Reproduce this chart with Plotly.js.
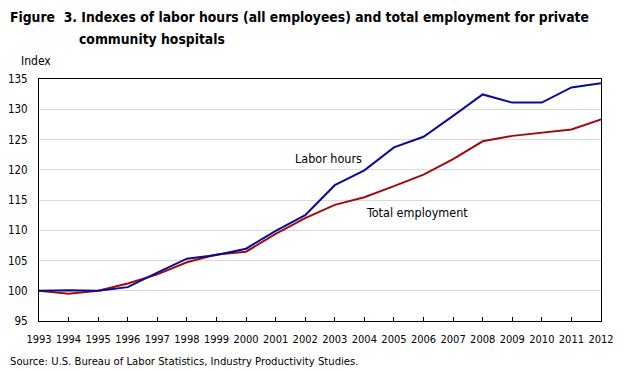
<!DOCTYPE html>
<html>
<head>
<meta charset="utf-8">
<script src="https://cdn.plot.ly/plotly-3.0.1.min.js"></script>
<style>html,body{margin:0;padding:0;background:#fff;}#chart{width:623px;height:373px;}</style>
</head>
<body>
<div id="chart"></div>
<script>
const years = [1993,1994,1995,1996,1997,1998,1999,2000,2001,2002,2003,2004,2005,2006,2007,2008,2009,2010,2011,2012];
const laborHours = [100.0,100.1,100.0,100.6,103.0,105.3,105.9,106.95,109.9,112.5,117.45,119.9,123.7,125.45,128.9,132.45,131.1,131.1,133.6,134.3];
const totalEmployment = [100.0,99.5,100.0,101.2,102.7,104.7,106.0,106.45,109.4,112.0,114.2,115.45,117.3,119.2,121.75,124.7,125.6,126.15,126.65,128.3];
const yTicks = [95,100,105,110,115,120,125,130,135];
const seriesNames = ["Labor hours","Total employment"];
const titleLine1 = "Figure&nbsp; 3. Indexes of labor hours (all employees) and total employment for private";
const titleLine2 = "community hospitals";
const yAxisLabel = "Index";
const sourceText = "Source: U.S. Bureau of Labor Statistics, Industry Productivity Studies.";

const FONT = "'DejaVu Sans Condensed', 'Liberation Sans', Arial, sans-serif";
const BLUE = "#0a0a9a", RED = "#a00c0c";

const traces = [
  {x: years, y: totalEmployment, name: seriesNames[1], type: "scatter", mode: "lines",
   line: {color: RED, width: 2}},
  {x: years, y: laborHours, name: seriesNames[0], type: "scatter", mode: "lines",
   line: {color: BLUE, width: 2}}
];

const layout = {
  width: 623, height: 373,
  margin: {l: 39, r: 22, t: 79, b: 52, pad: 0},
  paper_bgcolor: "#fff", plot_bgcolor: "#fff",
  showlegend: false,
  font: {family: FONT, size: 12, color: "#000"},
  xaxis: {
    range: [years[0], years[years.length-1]],
    tickvals: years, ticktext: years.map(String), tickangle: 0,
    showgrid: false, zeroline: false,
    showline: true, mirror: true, linecolor: "#000", linewidth: 1,
    ticks: "inside", ticklen: 4, tickcolor: "#000", tickwidth: 1,
    ticklabelstandoff: 8,
    tickfont: {family: FONT, size: 11, color: "#000"},
    fixedrange: true
  },
  yaxis: {
    range: [yTicks[0], yTicks[yTicks.length-1]],
    tickvals: yTicks,
    showgrid: true, gridcolor: "#d9d9d9", gridwidth: 1, zeroline: false,
    showline: true, mirror: true, linecolor: "#000", linewidth: 1,
    ticks: "", ticklabelstandoff: 8,
    tickfont: {family: FONT, size: 11.5, color: "#000"},
    fixedrange: true
  },
  annotations: [
    {xref: "paper", yref: "paper", x: -0.0552, y: 1.258, xanchor: "left", yanchor: "middle",
     text: "<b>" + titleLine1 + "</b>", showarrow: false, font: {family: FONT, size: 13.8, color: "#000"}},
    {xref: "paper", yref: "paper", x: 0.0676, y: 1.165, xanchor: "left", yanchor: "middle",
     text: "<b>" + titleLine2 + "</b>", showarrow: false, font: {family: FONT, size: 13.8, color: "#000"}},
    {xref: "paper", yref: "paper", x: -0.0356, y: 1.074, xanchor: "left", yanchor: "middle",
     text: yAxisLabel, showarrow: false, font: {family: FONT, size: 12, color: "#000"}},
    {xref: "x", yref: "y", x: 2001.58, y: 121.8, xanchor: "left", yanchor: "middle",
     text: seriesNames[0], showarrow: false, font: {family: FONT, size: 12.5, color: "#000"}},
    {xref: "x", yref: "y", x: 2003.98, y: 112.9, xanchor: "left", yanchor: "middle",
     text: seriesNames[1], showarrow: false, font: {family: FONT, size: 12.5, color: "#000"}},
    {xref: "paper", yref: "paper", x: -0.0552, y: -0.169, xanchor: "left", yanchor: "middle",
     text: sourceText, showarrow: false, font: {family: FONT, size: 11.2, color: "#000"}}
  ]
};

Plotly.newPlot("chart", traces, layout, {displayModeBar: false, staticPlot: true});
</script>
</body>
</html>
